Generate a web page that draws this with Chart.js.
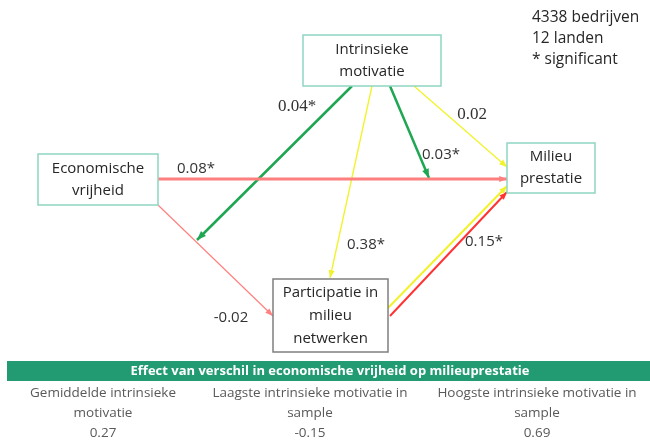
<!DOCTYPE html>
<html>
<head>
<meta charset="utf-8">
<script src="https://cdn.jsdelivr.net/npm/chart.js@4.4.1/dist/chart.umd.min.js"></script>
<style>
  html, body { margin: 0; padding: 0; background: #fff; }
  #wrap { width: 650px; height: 440px; }
</style>
</head>
<body>
<div id="wrap"><canvas id="myChart" width="650" height="440"></canvas></div>
<script>
// data
const nodeLabels = [
  ['Economische', 'vrijheid'],
  ['Intrinsieke', 'motivatie'],
  ['Milieu', 'prestatie'],
  ['Participatie in', 'milieu', 'netwerken']
];
const coefficients = ['0.08*', '0.04*', '0.03*', '0.02', '0.38*', '0.15*', '-0.02', ''];
const notes = ['4338 bedrijven', '12 landen', '* significant'];
const effectTitle = 'Effect van verschil in economische vrijheid op milieuprestatie';
const effectLabels = [
  ['Gemiddelde intrinsieke', 'motivatie'],
  ['Laagste intrinsieke motivatie in', 'sample'],
  ['Hoogste intrinsieke motivatie in', 'sample']
];
const effectValues = [0.27, -0.15, 0.69];

// layout (in scale units, 0..650 x 0..440)
const boxes = [
  { x0: 38, y0: 154, x1: 158, y1: 205, border: '#8fd6c2' },
  { x0: 303, y0: 35, x1: 441, y1: 86, border: '#8fd6c2' },
  { x0: 507, y0: 143, x1: 595, y1: 193, border: '#8fd6c2' },
  { x0: 273, y0: 279, x1: 388, y1: 352, border: '#7f7f7f' }
];
const paths = [
  { from: [158, 179], to: [507, 179], color: '#ff7f7f', width: 3, head: 6, lx: 196, ly: 169, serif: false },
  { from: [352, 86], to: [197, 240], color: '#1fa653', width: 2.5, head: 7, lx: 297, ly: 107, serif: true },
  { from: [390, 86], to: [429, 178], color: '#1fa653', width: 2.5, head: 7, lx: 441, ly: 155, serif: false },
  { from: [414, 86], to: [507, 167], color: '#f2f22a', width: 1.3, head: 6, lx: 472, ly: 115, serif: true },
  { from: [372, 86], to: [330, 278], color: '#f2f22a', width: 1.3, head: 6, lx: 366, ly: 245, serif: false },
  { from: [390, 316], to: [507, 192], color: '#ff3333', width: 2, head: 6, lx: 484, ly: 242, serif: false },
  { from: [158, 205], to: [273, 316], color: '#ff8080', width: 1.2, head: 6, lx: 231, ly: 318, serif: false },
  { from: [388, 308], to: [507, 186], color: '#f2f22a', width: 2, head: 6, lx: 0, ly: 0, serif: false }
];

const SANS = '"Open Sans"';

const datasets = paths.map((p, i) => ({
  label: coefficients[i],
  data: [{ x: p.from[0], y: p.from[1] }, { x: p.to[0], y: p.to[1] }],
  showLine: true,
  borderColor: p.color,
  borderWidth: p.width,
  pointRadius: 0,
  fill: false
}));

const diagram = {
  id: 'diagram',
  afterDatasetsDraw(chart) {
    const ctx = chart.ctx;
    const sx = chart.scales.x, sy = chart.scales.y;
    // arrow heads
    chart.data.datasets.forEach((ds, i) => {
      const meta = chart.getDatasetMeta(i);
      const a = meta.data[0], b = meta.data[1];
      const ang = Math.atan2(b.y - a.y, b.x - a.x);
      const h = paths[i].head;
      ctx.save();
      ctx.fillStyle = paths[i].color;
      ctx.translate(b.x, b.y);
      ctx.rotate(ang);
      ctx.beginPath();
      ctx.moveTo(0, 0);
      ctx.lineTo(-h * 1.3, -h / 2);
      ctx.lineTo(-h * 1.3, h / 2);
      ctx.closePath();
      ctx.fill();
      ctx.restore();
    });

    // boxes
    ctx.save();
    boxes.forEach((bx, i) => {
      const x0 = sx.getPixelForValue(bx.x0), x1 = sx.getPixelForValue(bx.x1);
      const y0 = sy.getPixelForValue(bx.y0), y1 = sy.getPixelForValue(bx.y1);
      ctx.fillStyle = '#ffffff';
      ctx.fillRect(x0, y0, x1 - x0, y1 - y0);
      ctx.strokeStyle = bx.border;
      ctx.lineWidth = 1.5;
      ctx.strokeRect(x0, y0, x1 - x0, y1 - y0);
      const lines = nodeLabels[i];
      const lh = lines.length === 3 ? 23 : 22;
      const cy = (y0 + y1) / 2;
      ctx.fillStyle = '#262626';
      ctx.font = '15px ' + SANS;
      ctx.textAlign = 'center';
      ctx.textBaseline = 'middle';
      lines.forEach((t, k) => {
        ctx.fillText(t, (x0 + x1) / 2, cy + (k - (lines.length - 1) / 2) * lh);
      });
    });

    // coefficient labels
    paths.forEach((p, i) => {
      if (!coefficients[i]) return;
      ctx.font = p.serif ? '17px "Liberation Serif"' : '15px ' + SANS;
      ctx.fillStyle = '#333333';
      ctx.fillText(coefficients[i], sx.getPixelForValue(p.lx), sy.getPixelForValue(p.ly));
    });

    // notes
    ctx.textAlign = 'left';
    ctx.font = '15.5px ' + SANS;
    ctx.fillStyle = '#262626';
    notes.forEach((t, k) => ctx.fillText(t, sx.getPixelForValue(532), sy.getPixelForValue(18 + k * 21)));

    // effect band
    const bx0 = sx.getPixelForValue(7), bx1 = sx.getPixelForValue(650);
    const by0 = sy.getPixelForValue(361), by1 = sy.getPixelForValue(381);
    ctx.fillStyle = '#229b72';
    ctx.fillRect(bx0, by0, bx1 - bx0, by1 - by0);
    ctx.fillStyle = '#ffffff';
    ctx.font = 'bold 13px ' + SANS;
    ctx.textAlign = 'center';
    ctx.fillText(effectTitle, sx.getPixelForValue(330), (by0 + by1) / 2);

    const cols = [103, 310, 537];
    ctx.font = '13.5px ' + SANS;
    ctx.fillStyle = '#595959';
    effectLabels.forEach((lbl, i) => {
      const cx = sx.getPixelForValue(cols[i]);
      lbl.forEach((t, k) => ctx.fillText(t, cx, sy.getPixelForValue(393 + k * 20)));
      ctx.fillText(effectValues[i].toFixed(2), cx, sy.getPixelForValue(433));
    });
    ctx.restore();
  }
};

new Chart(document.getElementById('myChart'), {
  type: 'scatter',
  data: { datasets },
  options: {
    responsive: false,
    animation: false,
    layout: { padding: 0 },
    plugins: { legend: { display: false }, tooltip: { enabled: false } },
    scales: {
      x: { type: 'linear', min: 0, max: 650, display: false },
      y: { type: 'linear', min: 0, max: 440, reverse: true, display: false }
    }
  },
  plugins: [diagram]
});
</script>
</body>
</html>
